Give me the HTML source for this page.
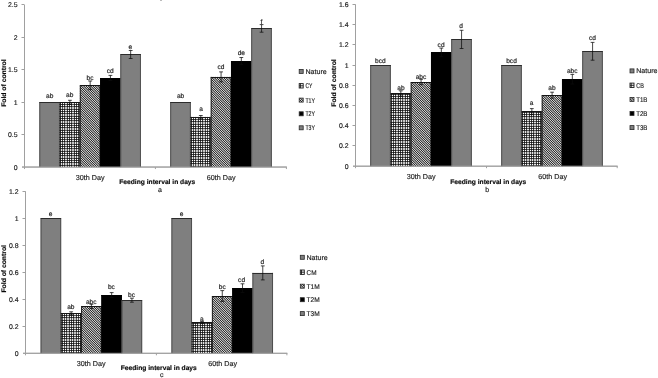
<!DOCTYPE html>
<html><head><meta charset="utf-8"><title>Fold of control charts</title>
<style>
html,body{margin:0;padding:0;background:#fff;}
body{width:658px;height:378px;overflow:hidden;font-family:"Liberation Sans",sans-serif;}
svg{display:block;will-change:transform;filter:grayscale(1);font-family:"Liberation Sans",sans-serif;}
text{text-rendering:geometricPrecision;stroke:#1c1c1c;stroke-width:0.16px;}
</style></head><body>
<svg width="658" height="378" viewBox="0 0 658 378">
<defs>
<pattern id="pg" width="7" height="7" patternUnits="userSpaceOnUse" shape-rendering="crispEdges"><rect x="0" y="0" width="1" height="1" fill="#ffffff"/><rect x="1" y="0" width="1" height="1" fill="#404040"/><rect x="2" y="0" width="1" height="1" fill="#ffffff"/><rect x="3" y="0" width="1" height="1" fill="#404040"/><rect x="4" y="0" width="1" height="1" fill="#e2e2e2"/><rect x="5" y="0" width="1" height="1" fill="#e2e2e2"/><rect x="6" y="0" width="1" height="1" fill="#404040"/><rect x="0" y="1" width="1" height="1" fill="#404040"/><rect x="1" y="1" width="1" height="1" fill="#191919"/><rect x="2" y="1" width="1" height="1" fill="#404040"/><rect x="3" y="1" width="1" height="1" fill="#191919"/><rect x="4" y="1" width="1" height="1" fill="#565656"/><rect x="5" y="1" width="1" height="1" fill="#565656"/><rect x="6" y="1" width="1" height="1" fill="#191919"/><rect x="0" y="2" width="1" height="1" fill="#ffffff"/><rect x="1" y="2" width="1" height="1" fill="#404040"/><rect x="2" y="2" width="1" height="1" fill="#ffffff"/><rect x="3" y="2" width="1" height="1" fill="#404040"/><rect x="4" y="2" width="1" height="1" fill="#e2e2e2"/><rect x="5" y="2" width="1" height="1" fill="#e2e2e2"/><rect x="6" y="2" width="1" height="1" fill="#404040"/><rect x="0" y="3" width="1" height="1" fill="#404040"/><rect x="1" y="3" width="1" height="1" fill="#191919"/><rect x="2" y="3" width="1" height="1" fill="#404040"/><rect x="3" y="3" width="1" height="1" fill="#191919"/><rect x="4" y="3" width="1" height="1" fill="#565656"/><rect x="5" y="3" width="1" height="1" fill="#565656"/><rect x="6" y="3" width="1" height="1" fill="#191919"/><rect x="0" y="4" width="1" height="1" fill="#e2e2e2"/><rect x="1" y="4" width="1" height="1" fill="#565656"/><rect x="2" y="4" width="1" height="1" fill="#e2e2e2"/><rect x="3" y="4" width="1" height="1" fill="#565656"/><rect x="4" y="4" width="1" height="1" fill="#c4c4c4"/><rect x="5" y="4" width="1" height="1" fill="#c4c4c4"/><rect x="6" y="4" width="1" height="1" fill="#565656"/><rect x="0" y="5" width="1" height="1" fill="#e2e2e2"/><rect x="1" y="5" width="1" height="1" fill="#565656"/><rect x="2" y="5" width="1" height="1" fill="#e2e2e2"/><rect x="3" y="5" width="1" height="1" fill="#565656"/><rect x="4" y="5" width="1" height="1" fill="#c4c4c4"/><rect x="5" y="5" width="1" height="1" fill="#c4c4c4"/><rect x="6" y="5" width="1" height="1" fill="#565656"/><rect x="0" y="6" width="1" height="1" fill="#404040"/><rect x="1" y="6" width="1" height="1" fill="#191919"/><rect x="2" y="6" width="1" height="1" fill="#404040"/><rect x="3" y="6" width="1" height="1" fill="#191919"/><rect x="4" y="6" width="1" height="1" fill="#565656"/><rect x="5" y="6" width="1" height="1" fill="#565656"/><rect x="6" y="6" width="1" height="1" fill="#191919"/></pattern>
<pattern id="ph" width="7" height="7" patternUnits="userSpaceOnUse" shape-rendering="crispEdges"><rect x="0" y="0" width="1" height="1" fill="#9a9a9a"/><rect x="1" y="0" width="1" height="1" fill="#8d8d8d"/><rect x="2" y="0" width="1" height="1" fill="#4e4e4e"/><rect x="3" y="0" width="1" height="1" fill="#cdcdcd"/><rect x="4" y="0" width="1" height="1" fill="#272727"/><rect x="5" y="0" width="1" height="1" fill="#d3d3d3"/><rect x="6" y="0" width="1" height="1" fill="#444444"/><rect x="0" y="1" width="1" height="1" fill="#444444"/><rect x="1" y="1" width="1" height="1" fill="#9a9a9a"/><rect x="2" y="1" width="1" height="1" fill="#8d8d8d"/><rect x="3" y="1" width="1" height="1" fill="#4e4e4e"/><rect x="4" y="1" width="1" height="1" fill="#cdcdcd"/><rect x="5" y="1" width="1" height="1" fill="#272727"/><rect x="6" y="1" width="1" height="1" fill="#d3d3d3"/><rect x="0" y="2" width="1" height="1" fill="#d3d3d3"/><rect x="1" y="2" width="1" height="1" fill="#444444"/><rect x="2" y="2" width="1" height="1" fill="#9a9a9a"/><rect x="3" y="2" width="1" height="1" fill="#8d8d8d"/><rect x="4" y="2" width="1" height="1" fill="#4e4e4e"/><rect x="5" y="2" width="1" height="1" fill="#cdcdcd"/><rect x="6" y="2" width="1" height="1" fill="#272727"/><rect x="0" y="3" width="1" height="1" fill="#272727"/><rect x="1" y="3" width="1" height="1" fill="#d3d3d3"/><rect x="2" y="3" width="1" height="1" fill="#444444"/><rect x="3" y="3" width="1" height="1" fill="#9a9a9a"/><rect x="4" y="3" width="1" height="1" fill="#8d8d8d"/><rect x="5" y="3" width="1" height="1" fill="#4e4e4e"/><rect x="6" y="3" width="1" height="1" fill="#cdcdcd"/><rect x="0" y="4" width="1" height="1" fill="#cdcdcd"/><rect x="1" y="4" width="1" height="1" fill="#272727"/><rect x="2" y="4" width="1" height="1" fill="#d3d3d3"/><rect x="3" y="4" width="1" height="1" fill="#444444"/><rect x="4" y="4" width="1" height="1" fill="#9a9a9a"/><rect x="5" y="4" width="1" height="1" fill="#8d8d8d"/><rect x="6" y="4" width="1" height="1" fill="#4e4e4e"/><rect x="0" y="5" width="1" height="1" fill="#4e4e4e"/><rect x="1" y="5" width="1" height="1" fill="#cdcdcd"/><rect x="2" y="5" width="1" height="1" fill="#272727"/><rect x="3" y="5" width="1" height="1" fill="#d3d3d3"/><rect x="4" y="5" width="1" height="1" fill="#444444"/><rect x="5" y="5" width="1" height="1" fill="#9a9a9a"/><rect x="6" y="5" width="1" height="1" fill="#8d8d8d"/><rect x="0" y="6" width="1" height="1" fill="#8d8d8d"/><rect x="1" y="6" width="1" height="1" fill="#4e4e4e"/><rect x="2" y="6" width="1" height="1" fill="#cdcdcd"/><rect x="3" y="6" width="1" height="1" fill="#272727"/><rect x="4" y="6" width="1" height="1" fill="#d3d3d3"/><rect x="5" y="6" width="1" height="1" fill="#444444"/><rect x="6" y="6" width="1" height="1" fill="#9a9a9a"/></pattern>
</defs>
<rect width="658" height="378" fill="#ffffff"/>
<rect x="160" y="0" width="2" height="1" fill="#bcbcbc"/>
<g>
<!-- chart a -->
<g stroke="#a0a0a0" stroke-width="1" fill="none">
<line x1="24.5" y1="4.93" x2="24.5" y2="169.05"/>
<line x1="22" y1="167.05" x2="286.8" y2="167.05"/>
<line x1="21.5" y1="134.5" x2="24.5" y2="134.5"/>
<line x1="21.5" y1="102.5" x2="24.5" y2="102.5"/>
<line x1="21.5" y1="69.5" x2="24.5" y2="69.5"/>
<line x1="21.5" y1="37.5" x2="24.5" y2="37.5"/>
<line x1="21.5" y1="4.5" x2="24.5" y2="4.5"/>
<line x1="155.4" y1="167.05" x2="155.4" y2="169.05"/>
<line x1="286.4" y1="167.05" x2="286.4" y2="169.05"/>
</g>
<g font-size="6.9" fill="#1c1c1c" text-anchor="end">
<text x="17.5" y="169.55">0</text>
<text x="17.5" y="137.12">0.5</text>
<text x="17.5" y="104.7">1</text>
<text x="17.5" y="72.28">1.5</text>
<text x="17.5" y="39.85">2</text>
<text x="17.5" y="7.43">2.5</text>
</g>
<rect x="39.35" y="102.2" width="20.55" height="64.85" fill="#7f7f7f"/>
<path d="M39.8 167.05V102.2M59.45 167.05V102.2" stroke="#484848" stroke-width="0.9" fill="none"/>
<path d="M39.35 102.5H59.9" stroke="#2c2c2c" stroke-width="1" fill="none"/>
<g transform="translate(61 103)"><rect x="-1.4" y="-0.7" width="20.55" height="64.75" fill="url(#pg)"/></g>
<path d="M60.05 167.05V102.3M79.7 167.05V102.3" stroke="#161616" stroke-width="0.9" fill="none"/>
<path d="M59.6 102.5H80.15" stroke="#161616" stroke-width="1" fill="none"/>
<g transform="translate(82 86)"><rect x="-2.15" y="-0.7" width="20.55" height="81.75" fill="url(#ph)"/></g>
<path d="M80.3 167.05V85.3M99.95 167.05V85.3" stroke="#161616" stroke-width="0.9" fill="none"/>
<path d="M79.85 85.5H100.4" stroke="#161616" stroke-width="1" fill="none"/>
<rect x="100.1" y="78" width="20.55" height="89.05" fill="#000000"/>
<path d="M100.55 167.05V78M120.2 167.05V78" stroke="#000" stroke-width="0.8" fill="none"/>
<path d="M100.1 78.5H120.65" stroke="#000" stroke-width="1" fill="none"/>
<rect x="120.35" y="54.5" width="20.55" height="112.55" fill="#7f7f7f"/>
<path d="M120.8 167.05V54.5M140.45 167.05V54.5" stroke="#484848" stroke-width="0.9" fill="none"/>
<path d="M120.35 54.5H140.9" stroke="#2c2c2c" stroke-width="1" fill="none"/>
<rect x="170.25" y="102" width="20.55" height="65.05" fill="#7f7f7f"/>
<path d="M170.7 167.05V102M190.35 167.05V102" stroke="#484848" stroke-width="0.9" fill="none"/>
<path d="M170.25 102.5H190.8" stroke="#2c2c2c" stroke-width="1" fill="none"/>
<g transform="translate(192 118)"><rect x="-1.5" y="-1.1" width="20.55" height="50.15" fill="url(#pg)"/></g>
<path d="M190.95 167.05V116.9M210.6 167.05V116.9" stroke="#161616" stroke-width="0.9" fill="none"/>
<path d="M190.5 117.5H211.05" stroke="#161616" stroke-width="1" fill="none"/>
<g transform="translate(213 78)"><rect x="-2.25" y="-1.1" width="20.55" height="90.15" fill="url(#ph)"/></g>
<path d="M211.2 167.05V76.9M230.85 167.05V76.9" stroke="#161616" stroke-width="0.9" fill="none"/>
<path d="M210.75 77.5H231.3" stroke="#161616" stroke-width="1" fill="none"/>
<rect x="231" y="61.1" width="20.55" height="105.95" fill="#000000"/>
<path d="M231.45 167.05V61.1M251.1 167.05V61.1" stroke="#000" stroke-width="0.8" fill="none"/>
<path d="M231 61.5H251.55" stroke="#000" stroke-width="1" fill="none"/>
<rect x="251.25" y="28.4" width="20.55" height="138.65" fill="#7f7f7f"/>
<path d="M251.7 167.05V28.4M271.35 167.05V28.4" stroke="#484848" stroke-width="0.9" fill="none"/>
<path d="M251.25 28.5H271.8" stroke="#2c2c2c" stroke-width="1" fill="none"/>
<line x1="22" y1="167.05" x2="286.8" y2="167.05" stroke="#a0a0a0" stroke-width="1"/>
<g stroke="#0c0c0c" stroke-width="0.75" fill="none">
<path d="M69.92 100.3V104.3M68.02 100.3H71.83M68.02 104.3H71.83"/>
<path d="M90.17 81V89.6M88.27 81H92.08M88.27 89.6H92.08"/>
<path d="M110.42 75.4V80.6M108.52 75.4H112.33M108.52 80.6H112.33"/>
<path d="M130.67 50.5V58.5M128.77 50.5H132.57M128.77 58.5H132.57"/>
<path d="M200.82 115.5V118.3M198.92 115.5H202.72M198.92 118.3H202.72"/>
<path d="M221.07 71.9V81.9M219.17 71.9H222.97M219.17 81.9H222.97"/>
<path d="M241.32 57.5V64.7M239.42 57.5H243.22M239.42 64.7H243.22"/>
<path d="M261.57 24.6V32.2M259.68 24.6H263.47M259.68 32.2H263.47"/>
</g>
<g font-size="6.6" fill="#1c1c1c" text-anchor="middle">
<text x="49.7" y="97.9">ab</text>
<text x="69.7" y="96.8">ab</text>
<text x="90" y="79.7">bc</text>
<text x="110.3" y="73">cd</text>
<text x="130.4" y="48.8">e</text>
<text x="180.6" y="98.3">ab</text>
<text x="201" y="111.2">a</text>
<text x="221" y="69.1">cd</text>
<text x="241.3" y="55.1">de</text>
<text x="261.5" y="23.8">f</text>
</g>
<g font-size="7.2" fill="#1c1c1c" text-anchor="middle">
<text x="90.2" y="179.8" textLength="28.8" lengthAdjust="spacingAndGlyphs">30th Day</text>
<text x="221.2" y="179.8" textLength="28.8" lengthAdjust="spacingAndGlyphs">60th Day</text>
</g>
<text x="157.3" y="184.3" font-size="6.7" font-weight="bold" fill="#000" text-anchor="middle" textLength="76" lengthAdjust="spacingAndGlyphs">Feeding interval in days</text>
<text x="160" y="192" font-size="7" fill="#1c1c1c" text-anchor="middle">a</text>
<text transform="translate(5.7 83.1) rotate(-90)" font-size="6.6" font-weight="bold" fill="#000" text-anchor="middle" textLength="47.5" lengthAdjust="spacingAndGlyphs">Fold of control</text>
<rect x="299.2" y="69.4" width="4" height="4" fill="#7f7f7f" stroke="#2a2a2a" stroke-width="0.8"/>
<text x="305.4" y="73.8" font-size="6.9" fill="#1c1c1c" textLength="21.3" lengthAdjust="spacingAndGlyphs">Nature</text>
<rect x="299.2" y="83.6" width="4" height="4.4" fill="#f4f4f4" stroke="#1a1a1a" stroke-width="0.9"/>
<path d="M299.2 85.8H303.2M300.4 83.6V88" stroke="#1a1a1a" stroke-width="0.9" fill="none"/>
<text x="305.4" y="88.2" font-size="6.9" fill="#1c1c1c" textLength="7" lengthAdjust="spacingAndGlyphs">CY</text>
<rect x="299.2" y="98.1" width="4" height="4" fill="url(#ph)" stroke="#2a2a2a" stroke-width="0.8"/>
<text x="305.4" y="102.5" font-size="6.9" fill="#1c1c1c" textLength="9.6" lengthAdjust="spacingAndGlyphs">T1Y</text>
<rect x="299.2" y="111.8" width="4" height="4" fill="#000000" stroke="#2a2a2a" stroke-width="0.8"/>
<text x="305.4" y="116.2" font-size="6.9" fill="#1c1c1c" textLength="9.6" lengthAdjust="spacingAndGlyphs">T2Y</text>
<rect x="299.2" y="125.8" width="4" height="4" fill="#7f7f7f" stroke="#2a2a2a" stroke-width="0.8"/>
<text x="305.4" y="130.2" font-size="6.9" fill="#1c1c1c" textLength="9.6" lengthAdjust="spacingAndGlyphs">T3Y</text>
<!-- chart b -->
<g stroke="#a0a0a0" stroke-width="1" fill="none">
<line x1="355.5" y1="4.36" x2="355.5" y2="168.2"/>
<line x1="353" y1="166.2" x2="617.6" y2="166.2"/>
<line x1="352.5" y1="145.5" x2="355.5" y2="145.5"/>
<line x1="352.5" y1="125.5" x2="355.5" y2="125.5"/>
<line x1="352.5" y1="105.5" x2="355.5" y2="105.5"/>
<line x1="352.5" y1="85.5" x2="355.5" y2="85.5"/>
<line x1="352.5" y1="65.5" x2="355.5" y2="65.5"/>
<line x1="352.5" y1="44.5" x2="355.5" y2="44.5"/>
<line x1="352.5" y1="24.5" x2="355.5" y2="24.5"/>
<line x1="352.5" y1="4.5" x2="355.5" y2="4.5"/>
<line x1="486.5" y1="166.2" x2="486.5" y2="168.2"/>
<line x1="617.2" y1="166.2" x2="617.2" y2="168.2"/>
</g>
<g font-size="6.9" fill="#1c1c1c" text-anchor="end">
<text x="348.5" y="168.7">0</text>
<text x="348.5" y="148.47">0.2</text>
<text x="348.5" y="128.24">0.4</text>
<text x="348.5" y="108.01">0.6</text>
<text x="348.5" y="87.78">0.8</text>
<text x="348.5" y="67.55">1</text>
<text x="348.5" y="47.32">1.2</text>
<text x="348.5" y="27.09">1.4</text>
<text x="348.5" y="6.86">1.6</text>
</g>
<rect x="370.25" y="65.1" width="20.55" height="101.1" fill="#7f7f7f"/>
<path d="M370.7 166.2V65.1M390.35 166.2V65.1" stroke="#484848" stroke-width="0.9" fill="none"/>
<path d="M370.25 65.5H390.8" stroke="#2c2c2c" stroke-width="1" fill="none"/>
<g transform="translate(392 95)"><rect x="-1.5" y="-1.5" width="20.55" height="72.7" fill="url(#pg)"/></g>
<path d="M390.95 166.2V93.5M410.6 166.2V93.5" stroke="#161616" stroke-width="0.9" fill="none"/>
<path d="M390.5 93.5H411.05" stroke="#161616" stroke-width="1" fill="none"/>
<g transform="translate(413 83)"><rect x="-2.25" y="-1" width="20.55" height="84.2" fill="url(#ph)"/></g>
<path d="M411.2 166.2V82M430.85 166.2V82" stroke="#161616" stroke-width="0.9" fill="none"/>
<path d="M410.75 82.5H431.3" stroke="#161616" stroke-width="1" fill="none"/>
<rect x="431" y="52.4" width="20.55" height="113.8" fill="#000000"/>
<path d="M431.45 166.2V52.4M451.1 166.2V52.4" stroke="#000" stroke-width="0.8" fill="none"/>
<path d="M431 52.5H451.55" stroke="#000" stroke-width="1" fill="none"/>
<rect x="451.25" y="39.4" width="20.55" height="126.8" fill="#7f7f7f"/>
<path d="M451.7 166.2V39.4M471.35 166.2V39.4" stroke="#484848" stroke-width="0.9" fill="none"/>
<path d="M451.25 39.5H471.8" stroke="#2c2c2c" stroke-width="1" fill="none"/>
<rect x="501.25" y="65.2" width="20.55" height="101" fill="#7f7f7f"/>
<path d="M501.7 166.2V65.2M521.35 166.2V65.2" stroke="#484848" stroke-width="0.9" fill="none"/>
<path d="M501.25 65.5H521.8" stroke="#2c2c2c" stroke-width="1" fill="none"/>
<g transform="translate(523 113)"><rect x="-1.5" y="-1.4" width="20.55" height="54.6" fill="url(#pg)"/></g>
<path d="M521.95 166.2V111.6M541.6 166.2V111.6" stroke="#161616" stroke-width="0.9" fill="none"/>
<path d="M521.5 111.5H542.05" stroke="#161616" stroke-width="1" fill="none"/>
<g transform="translate(544 96)"><rect x="-2.25" y="-0.8" width="20.55" height="71" fill="url(#ph)"/></g>
<path d="M542.2 166.2V95.2M561.85 166.2V95.2" stroke="#161616" stroke-width="0.9" fill="none"/>
<path d="M541.75 95.5H562.3" stroke="#161616" stroke-width="1" fill="none"/>
<rect x="562" y="79.2" width="20.55" height="87" fill="#000000"/>
<path d="M562.45 166.2V79.2M582.1 166.2V79.2" stroke="#000" stroke-width="0.8" fill="none"/>
<path d="M562 79.5H582.55" stroke="#000" stroke-width="1" fill="none"/>
<rect x="582.25" y="51.3" width="20.55" height="114.9" fill="#7f7f7f"/>
<path d="M582.7 166.2V51.3M602.35 166.2V51.3" stroke="#484848" stroke-width="0.9" fill="none"/>
<path d="M582.25 51.5H602.8" stroke="#2c2c2c" stroke-width="1" fill="none"/>
<line x1="353" y1="166.2" x2="617.6" y2="166.2" stroke="#a0a0a0" stroke-width="1"/>
<g stroke="#0c0c0c" stroke-width="0.75" fill="none">
<path d="M400.82 90.8V96.2M398.93 90.8H402.72M398.93 96.2H402.72"/>
<path d="M421.07 79.3V84.7M419.18 79.3H422.97M419.18 84.7H422.97"/>
<path d="M441.32 48.1V56.7M439.43 48.1H443.22M439.43 56.7H443.22"/>
<path d="M461.57 30.3V48.5M459.68 30.3H463.47M459.68 48.5H463.47"/>
<path d="M531.83 108.6V114.6M529.93 108.6H533.73M529.93 114.6H533.73"/>
<path d="M552.08 92.2V98.2M550.18 92.2H553.98M550.18 98.2H553.98"/>
<path d="M572.33 74.4V84M570.43 74.4H574.23M570.43 84H574.23"/>
<path d="M592.58 42.4V60.2M590.68 42.4H594.48M590.68 60.2H594.48"/>
</g>
<g font-size="6.6" fill="#1c1c1c" text-anchor="middle">
<text x="380.4" y="63">bcd</text>
<text x="400.9" y="89.8">ab</text>
<text x="421" y="78.8">abc</text>
<text x="441.1" y="47.1">cd</text>
<text x="461.2" y="28.1">d</text>
<text x="511.5" y="62.5">bcd</text>
<text x="531.7" y="104.6">a</text>
<text x="552" y="89.8">ab</text>
<text x="572.2" y="72.9">abc</text>
<text x="592.4" y="40.3">cd</text>
</g>
<g font-size="7.2" fill="#1c1c1c" text-anchor="middle">
<text x="421.2" y="178.7" textLength="28.8" lengthAdjust="spacingAndGlyphs">30th Day</text>
<text x="552.6" y="178.7" textLength="28.8" lengthAdjust="spacingAndGlyphs">60th Day</text>
</g>
<text x="488.3" y="184" font-size="6.7" font-weight="bold" fill="#000" text-anchor="middle" textLength="76" lengthAdjust="spacingAndGlyphs">Feeding interval in days</text>
<text x="487.3" y="191.5" font-size="7" fill="#1c1c1c" text-anchor="middle">b</text>
<text transform="translate(335.8 83) rotate(-90)" font-size="6.6" font-weight="bold" fill="#000" text-anchor="middle" textLength="47.5" lengthAdjust="spacingAndGlyphs">Fold of control</text>
<rect x="630" y="68.9" width="4" height="4" fill="#7f7f7f" stroke="#2a2a2a" stroke-width="0.8"/>
<text x="636.2" y="73.3" font-size="6.9" fill="#1c1c1c" textLength="21.3" lengthAdjust="spacingAndGlyphs">Nature</text>
<rect x="630" y="83.1" width="4" height="4.4" fill="#f4f4f4" stroke="#1a1a1a" stroke-width="0.9"/>
<path d="M630 85.3H634M631.2 83.1V87.5" stroke="#1a1a1a" stroke-width="0.9" fill="none"/>
<text x="636.2" y="87.7" font-size="6.9" fill="#1c1c1c" textLength="7.6" lengthAdjust="spacingAndGlyphs">CB</text>
<rect x="630" y="97.4" width="4" height="4" fill="url(#ph)" stroke="#2a2a2a" stroke-width="0.8"/>
<text x="636.2" y="101.8" font-size="6.9" fill="#1c1c1c" textLength="11.2" lengthAdjust="spacingAndGlyphs">T1B</text>
<rect x="630" y="111.4" width="4" height="4" fill="#000000" stroke="#2a2a2a" stroke-width="0.8"/>
<text x="636.2" y="115.8" font-size="6.9" fill="#1c1c1c" textLength="11.2" lengthAdjust="spacingAndGlyphs">T2B</text>
<rect x="630" y="125.6" width="4" height="4" fill="#7f7f7f" stroke="#2a2a2a" stroke-width="0.8"/>
<text x="636.2" y="130" font-size="6.9" fill="#1c1c1c" textLength="11.2" lengthAdjust="spacingAndGlyphs">T3B</text>
<!-- chart c -->
<g stroke="#a0a0a0" stroke-width="1" fill="none">
<line x1="25.5" y1="191.3" x2="25.5" y2="355.3"/>
<line x1="23" y1="353.3" x2="287.3" y2="353.3"/>
<line x1="22.5" y1="326.5" x2="25.5" y2="326.5"/>
<line x1="22.5" y1="299.5" x2="25.5" y2="299.5"/>
<line x1="22.5" y1="272.5" x2="25.5" y2="272.5"/>
<line x1="22.5" y1="245.5" x2="25.5" y2="245.5"/>
<line x1="22.5" y1="218.5" x2="25.5" y2="218.5"/>
<line x1="22.5" y1="191.5" x2="25.5" y2="191.5"/>
<line x1="156.4" y1="353.3" x2="156.4" y2="355.3"/>
<line x1="286.9" y1="353.3" x2="286.9" y2="355.3"/>
</g>
<g font-size="6.9" fill="#1c1c1c" text-anchor="end">
<text x="18.5" y="355.8">0</text>
<text x="18.5" y="328.8">0.2</text>
<text x="18.5" y="301.8">0.4</text>
<text x="18.5" y="274.8">0.6</text>
<text x="18.5" y="247.8">0.8</text>
<text x="18.5" y="220.8">1</text>
<text x="18.5" y="193.8">1.2</text>
</g>
<rect x="40.6" y="218.4" width="20.55" height="134.9" fill="#7f7f7f"/>
<path d="M41.05 353.3V218.4M60.7 353.3V218.4" stroke="#484848" stroke-width="0.9" fill="none"/>
<path d="M40.6 218.5H61.15" stroke="#2c2c2c" stroke-width="1" fill="none"/>
<g transform="translate(63 314)"><rect x="-2.15" y="-0.7" width="20.55" height="40" fill="url(#pg)"/></g>
<path d="M61.3 353.3V313.3M80.95 353.3V313.3" stroke="#161616" stroke-width="0.9" fill="none"/>
<path d="M60.85 313.5H81.4" stroke="#161616" stroke-width="1" fill="none"/>
<g transform="translate(83 307)"><rect x="-1.9" y="-0.6" width="20.55" height="46.9" fill="url(#ph)"/></g>
<path d="M81.55 353.3V306.4M101.2 353.3V306.4" stroke="#161616" stroke-width="0.9" fill="none"/>
<path d="M81.1 306.5H101.65" stroke="#161616" stroke-width="1" fill="none"/>
<rect x="101.35" y="295" width="20.55" height="58.3" fill="#000000"/>
<path d="M101.8 353.3V295M121.45 353.3V295" stroke="#000" stroke-width="0.8" fill="none"/>
<path d="M101.35 295.5H121.9" stroke="#000" stroke-width="1" fill="none"/>
<rect x="121.6" y="300.2" width="20.55" height="53.1" fill="#7f7f7f"/>
<path d="M122.05 353.3V300.2M141.7 353.3V300.2" stroke="#484848" stroke-width="0.9" fill="none"/>
<path d="M121.6 300.5H142.15" stroke="#2c2c2c" stroke-width="1" fill="none"/>
<rect x="171.45" y="218.4" width="20.55" height="134.9" fill="#7f7f7f"/>
<path d="M171.9 353.3V218.4M191.55 353.3V218.4" stroke="#484848" stroke-width="0.9" fill="none"/>
<path d="M171.45 218.5H192" stroke="#2c2c2c" stroke-width="1" fill="none"/>
<g transform="translate(194 324)"><rect x="-2.3" y="-1.4" width="20.55" height="30.7" fill="url(#pg)"/></g>
<path d="M192.15 353.3V322.6M211.8 353.3V322.6" stroke="#161616" stroke-width="0.9" fill="none"/>
<path d="M191.7 322.5H212.25" stroke="#161616" stroke-width="1" fill="none"/>
<g transform="translate(214 297)"><rect x="-2.05" y="-1" width="20.55" height="57.3" fill="url(#ph)"/></g>
<path d="M212.4 353.3V296M232.05 353.3V296" stroke="#161616" stroke-width="0.9" fill="none"/>
<path d="M211.95 296.5H232.5" stroke="#161616" stroke-width="1" fill="none"/>
<rect x="232.2" y="288.1" width="20.55" height="65.2" fill="#000000"/>
<path d="M232.65 353.3V288.1M252.3 353.3V288.1" stroke="#000" stroke-width="0.8" fill="none"/>
<path d="M232.2 288.5H252.75" stroke="#000" stroke-width="1" fill="none"/>
<rect x="252.45" y="272.9" width="20.55" height="80.4" fill="#7f7f7f"/>
<path d="M252.9 353.3V272.9M272.55 353.3V272.9" stroke="#484848" stroke-width="0.9" fill="none"/>
<path d="M252.45 273.5H273" stroke="#2c2c2c" stroke-width="1" fill="none"/>
<line x1="23" y1="353.3" x2="287.3" y2="353.3" stroke="#a0a0a0" stroke-width="1"/>
<g stroke="#0c0c0c" stroke-width="0.75" fill="none">
<path d="M71.17 311.8V314.8M69.27 311.8H73.08M69.27 314.8H73.08"/>
<path d="M91.42 304.3V308.5M89.52 304.3H93.33M89.52 308.5H93.33"/>
<path d="M111.67 292.6V297.4M109.77 292.6H113.58M109.77 297.4H113.58"/>
<path d="M131.92 298.2V302.2M130.02 298.2H133.82M130.02 302.2H133.82"/>
<path d="M202.02 321.6V323.6M200.12 321.6H203.92M200.12 323.6H203.92"/>
<path d="M222.27 290.6V301.4M220.37 290.6H224.17M220.37 301.4H224.17"/>
<path d="M242.52 283.8V292.4M240.62 283.8H244.42M240.62 292.4H244.42"/>
<path d="M262.77 265.9V279.9M260.88 265.9H264.67M260.88 279.9H264.67"/>
</g>
<g font-size="6.6" fill="#1c1c1c" text-anchor="middle">
<text x="50.6" y="216.2">e</text>
<text x="70.8" y="309.4">ab</text>
<text x="91.2" y="303.5">abc</text>
<text x="111.4" y="289.4">bc</text>
<text x="131.5" y="297">bc</text>
<text x="181.5" y="216.2">e</text>
<text x="201.9" y="321.1">a</text>
<text x="222.3" y="288.7">bc</text>
<text x="241.6" y="282">cd</text>
<text x="262.4" y="263.5">d</text>
</g>
<g font-size="7.2" fill="#1c1c1c" text-anchor="middle">
<text x="91.1" y="366.3" textLength="28.8" lengthAdjust="spacingAndGlyphs">30th Day</text>
<text x="222.6" y="366.3" textLength="28.8" lengthAdjust="spacingAndGlyphs">60th Day</text>
</g>
<text x="158.8" y="370.2" font-size="6.7" font-weight="bold" fill="#000" text-anchor="middle" textLength="76" lengthAdjust="spacingAndGlyphs">Feeding interval in days</text>
<text x="161.8" y="377" font-size="7" fill="#1c1c1c" text-anchor="middle">c</text>
<text transform="translate(5.6 268.8) rotate(-90)" font-size="6.6" font-weight="bold" fill="#000" text-anchor="middle" textLength="47.5" lengthAdjust="spacingAndGlyphs">Fold of control</text>
<rect x="300.3" y="255.3" width="4" height="4" fill="#7f7f7f" stroke="#2a2a2a" stroke-width="0.8"/>
<text x="306.5" y="259.7" font-size="6.9" fill="#1c1c1c" textLength="21.3" lengthAdjust="spacingAndGlyphs">Nature</text>
<rect x="300.3" y="270" width="4" height="4.4" fill="#f4f4f4" stroke="#1a1a1a" stroke-width="0.9"/>
<path d="M300.3 272.2H304.3M301.5 270V274.4" stroke="#1a1a1a" stroke-width="0.9" fill="none"/>
<text x="306.5" y="274.6" font-size="6.9" fill="#1c1c1c" textLength="10" lengthAdjust="spacingAndGlyphs">CM</text>
<rect x="300.3" y="284.2" width="4" height="4" fill="url(#ph)" stroke="#2a2a2a" stroke-width="0.8"/>
<text x="306.5" y="288.6" font-size="6.9" fill="#1c1c1c" textLength="13.2" lengthAdjust="spacingAndGlyphs">T1M</text>
<rect x="300.3" y="297.7" width="4" height="4" fill="#000000" stroke="#2a2a2a" stroke-width="0.8"/>
<text x="306.5" y="302.1" font-size="6.9" fill="#1c1c1c" textLength="13.2" lengthAdjust="spacingAndGlyphs">T2M</text>
<rect x="300.3" y="311.6" width="4" height="4" fill="#7f7f7f" stroke="#2a2a2a" stroke-width="0.8"/>
<text x="306.5" y="316" font-size="6.9" fill="#1c1c1c" textLength="13.2" lengthAdjust="spacingAndGlyphs">T3M</text>
</g>
</svg>
</body></html>
